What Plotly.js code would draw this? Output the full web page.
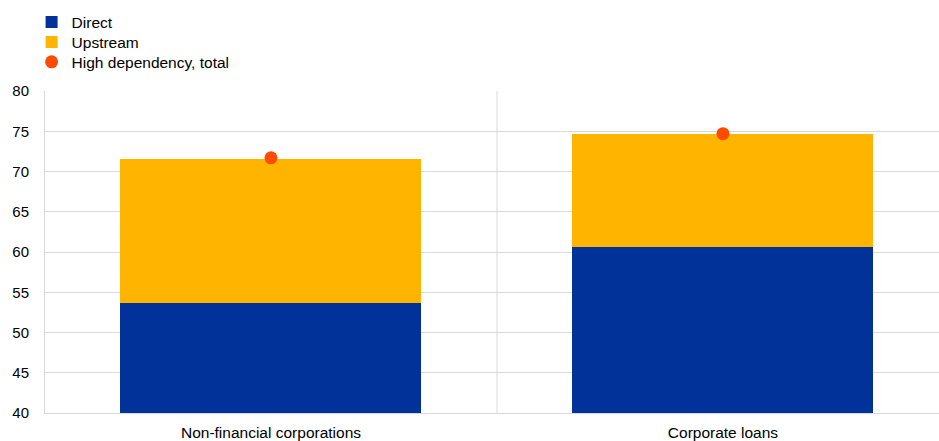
<!DOCTYPE html>
<html>
<head>
<meta charset="utf-8">
<script src="https://cdn.plot.ly/plotly-3.0.1.min.js"></script>
<style>html,body{margin:0;padding:0;background:#fff;}#chart{width:939px;height:441px;}</style>
</head>
<body>
<div id="chart"></div>
<script>
const categories = ["Non-financial corporations", "Corporate loans"];
const direct = [53.65, 60.6];
const upstream = [17.95, 14.0];
const highDependencyTotal = [71.7, 74.7];
const yTicks = [40, 45, 50, 55, 60, 65, 70, 75, 80];

const fam = "Liberation Sans, Arial, sans-serif";
const font = {family: fam, size: 15.5, color: "#000"};

const data = [
  {type: "bar", name: "Direct", x: categories, y: direct, marker: {color: "#003299"}, width: 0.666, legend: "legend"},
  {type: "bar", name: "Upstream", x: categories, y: upstream, marker: {color: "#FFB400"}, width: 0.666, legend: "legend2"},
  {type: "scatter", mode: "markers", name: "High dependency, total", x: categories, y: highDependencyTotal,
   marker: {color: "#FF4B00", size: 13}, legend: "legend3"}
];

function leg(y) {
  return {x: -0.015, y: y, xanchor: "left", yanchor: "top", traceorder: "normal",
          font: {family: fam, size: 15.5, color: "#000"}, bgcolor: "rgba(0,0,0,0)", itemwidth: 30};
}

const layout = {
  width: 939, height: 441,
  margin: {l: 45, r: 0, t: 90.5, b: 28},
  paper_bgcolor: "#fff", plot_bgcolor: "#fff",
  font: font,
  barmode: "stack",
  showlegend: true,
  legend: leg(1.266),
  legend2: leg(1.204),
  legend3: leg(1.142),
  xaxis: {type: "category", range: [-0.5, 1.478], showgrid: false, showline: true, linecolor: "#d9d9d9",
          linewidth: 1, ticks: "", ticklabelstandoff: 5, tickfont: {family: fam, size: 15.5, color: "#000"},
          zeroline: false, fixedrange: true},
  yaxis: {range: [40, 80], tickvals: yTicks, showgrid: true, gridcolor: "#d9d9d9", gridwidth: 1,
          showline: true, linecolor: "#d9d9d9", linewidth: 1, ticks: "", ticklabelstandoff: 12,
          tickfont: {family: fam, size: 15, color: "#000"}, zeroline: false, fixedrange: true},
  shapes: [{type: "line", xref: "x", yref: "paper", x0: 0.5, x1: 0.5, y0: 0, y1: 1,
            line: {color: "#d9d9d9", width: 1}, layer: "below"}]
};

Plotly.newPlot("chart", data, layout, {displayModeBar: false, staticPlot: true});
</script>
</body>
</html>
